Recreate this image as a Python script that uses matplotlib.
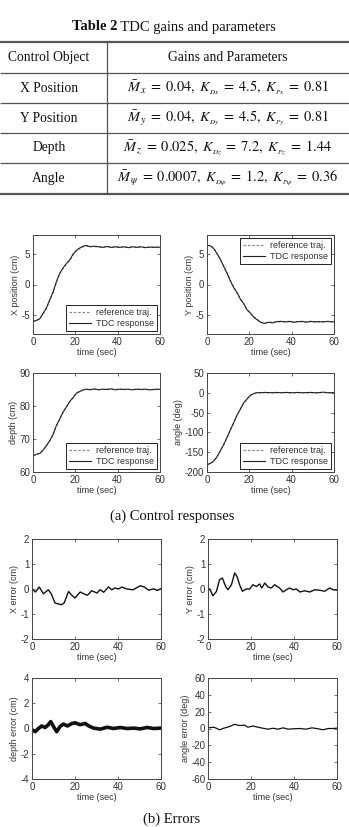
import matplotlib
matplotlib.use("Agg")
import matplotlib.pyplot as plt

plt.rcParams['mathtext.fontset'] = 'stix'
plt.rcParams['axes.unicode_minus'] = False

# ---------------- table data ----------------
table_title_bold = "Table 2"
table_title_rest = " TDC gains and parameters"
col_headers = ["Control Object", "Gains and Parameters"]
row_names = ["X Position", "Y Position", "Depth", "Angle"]
row_params = [
    r"$\bar{M}_{\,x}\;=\;0.04,\ K_{_{Dx}}\;=\;4.5,\ K_{_{Px}}\;=\;0.81$",
    r"$\bar{M}_{\,y}\;=\;0.04,\ K_{_{Dy}}\;=\;4.5,\ K_{_{Py}}\;=\;0.81$",
    r"$\bar{M}_{\,z}\;=\;0.025,\ K_{_{Dz}}\;=\;7.2,\ K_{_{Pz}}\;=\;1.44$",
    r"$\bar{M}_{\,\psi}\;=\;0.0007,\ K_{_{D\psi}}\;=\;1.2,\ K_{_{P\psi}}\;=\;0.36$",
]
caption_a = "(a) Control responses"
caption_b = "(b) Errors"

# ---------------- response data ----------------
t_resp = [0, 1.6, 3.2, 4.7, 6.3, 7.9, 9.5, 11, 12.6, 14.2, 15.8, 17.4, 18.9, 20.5, 22.1,
          23.7, 25.3, 27, 29, 31, 33, 35, 37, 39, 41, 43, 45, 47, 49, 51, 53, 55, 57, 59, 60]
x_ref = [-5.9, -5.85, -5.5, -4.8, -3.9, -2.6, -1.3, 0.3, 1.7, 2.6, 3.3, 3.9, 4.8, 5.6, 5.8,
         6.1, 6.2, 6.15, 6.1, 6.1, 6.05, 6.1, 6.05, 6.0, 6.05, 6.05, 6.0, 6.05, 6.05, 6.05,
         6.0, 6.0, 6.05, 6.0, 6.0]
x_tdc = [-6.0, -5.8, -5.55, -4.7, -3.8, -2.5, -1.2, 0.4, 1.8, 2.7, 3.4, 4.0, 4.9, 5.5, 5.9,
         6.2, 6.3, 6.1, 6.2, 6.1, 6.0, 6.15, 6.0, 6.1, 6.0, 6.1, 5.95, 6.1, 6.0, 6.1, 5.95,
         6.05, 6.0, 6.05, 6.0]
y_ref = [6.3, 6.3, 5.9, 5.1, 4.0, 3.0, 1.9, 0.7, -0.4, -1.4, -2.3, -3.2, -4.0, -4.7, -5.2,
         -5.6, -6.05, -6.2, -6.15, -6.1, -6.05, -6.05, -6.0, -6.05, -6.05, -6.0, -6.0, -6.05,
         -6.0, -6.0, -6.05, -6.0, -6.0, -6.0, -6.0]
y_tdc = [6.35, 6.25, 5.8, 5.0, 4.1, 2.9, 1.8, 0.6, -0.5, -1.3, -2.4, -3.1, -4.1, -4.6, -5.3,
         -5.7, -6.1, -6.3, -6.1, -6.2, -6.0, -5.95, -6.05, -5.95, -6.1, -6.0, -5.95, -6.1,
         -5.95, -6.05, -6.0, -6.05, -5.95, -6.05, -6.0]
z_ref = [65.0, 65.3, 65.7, 66.5, 68.0, 69.3, 71.5, 73.8, 76.1, 78.0, 79.8, 81.3, 82.6, 83.8,
         84.5, 84.8, 85.0, 85.0, 85.1, 85.0, 85.0, 85.1, 85.0, 85.0, 85.1, 85.0, 85.0, 85.0,
         85.1, 85.0, 85.0, 85.0, 85.0, 85.0, 85.0]
z_tdc = [64.8, 65.4, 65.6, 66.6, 67.9, 69.5, 71.4, 74.0, 76.0, 78.2, 79.7, 81.4, 82.5, 83.9,
         84.4, 84.9, 85.1, 84.9, 85.2, 84.9, 85.1, 85.0, 85.2, 84.9, 85.1, 85.0, 85.1, 84.9,
         85.1, 85.0, 85.1, 84.9, 85.0, 85.1, 85.0]
a_ref = [-181, -179, -173, -161, -147, -130, -113, -95, -75, -57, -40, -26, -15, -7, -2,
         0, 0.5, 0.5, 0, 0.5, 0, 0.5, 0.5, 0, 0.5, 0, 0.5, 0, 0.5, 0, 0.5, 1, 0.5, 0, 0]
a_tdc = [-182, -178, -172, -162, -146, -131, -112, -94, -76, -56, -41, -25, -16, -6, -2,
         0.5, 0, 1, 0.5, 0, 1, 0, 1, 0.5, 0, 1, 0, 0.5, 1, 0, 0.5, 1.5, 0, 0.5, 0]

# ---------------- error data ----------------
t_ex = [0, 1.6, 3.4, 5.3, 7.6, 9.0, 10.7, 12.3, 13.8, 15.0, 17.0, 18.5, 20.0, 22.4, 24.0,
        25.8, 27.8, 30.2, 31.7, 33.3, 35.6, 37.1, 38.6, 40.2, 41.8, 44.0, 47.0, 50.4, 52.2,
        54.3, 56.6, 58.2, 60]
e_x = [0.0, -0.12, 0.08, -0.19, -0.03, -0.2, -0.56, -0.6, -0.63, -0.55, -0.1, -0.25, -0.36,
       -0.12, -0.19, -0.25, -0.07, -0.16, -0.03, -0.13, 0.08, -0.03, 0.04, 0.0, 0.08, 0.0,
       -0.03, 0.13, 0.08, -0.05, 0.01, -0.06, 0.01]
t_ey = [0, 0.8, 2.3, 3.9, 5.4, 6.7, 8.2, 9.3, 10.9, 12.4, 13.5, 14.7, 16.0, 17.8, 19.4,
        20.9, 22.5, 24.0, 25.0, 26.4, 27.9, 29.5, 31.0, 33.3, 34.9, 36.5, 38.0, 39.6, 41.1,
        42.7, 45.0, 47.3, 49.6, 52.0, 54.3, 56.6, 58.1, 60]
e_y = [0.0, 0.0, -0.27, -0.1, 0.37, 0.44, 0.1, -0.03, 0.17, 0.64, 0.5, 0.17, -0.09, 0.0,
       0.0, 0.17, 0.1, 0.2, 0.04, 0.24, 0.08, 0.04, 0.17, 0.04, -0.12, -0.03, 0.04, -0.03,
       0.0, -0.12, -0.07, -0.12, -0.03, -0.05, -0.09, 0.04, -0.03, -0.04]
t_ez = [0, 1.5, 3.0, 4.5, 6.1, 7.6, 8.7, 10.0, 11.5, 13.0, 14.6, 16.5, 18.6, 20.1, 22.4,
        24.8, 26.4, 28.7, 31.8, 34.9, 38.0, 41.1, 44.2, 47.3, 50.4, 53.5, 56.6, 60]
e_z = [-0.1, -0.25, 0.0, 0.2, 0.08, 0.3, 0.55, 0.15, -0.25, 0.15, 0.35, 0.2, 0.4, 0.45,
       0.3, 0.4, 0.2, 0.03, -0.05, 0.1, 0.0, 0.08, 0.0, 0.03, -0.03, 0.08, 0.0, 0.03]
t_ea = [0, 0.8, 2.8, 5.4, 7.5, 10.0, 12.4, 14.7, 17.0, 18.6, 20.9, 23.3, 25.6, 28.0, 30.2,
        32.6, 35.0, 37.2, 40.0, 42.7, 45.5, 48.4, 51.0, 53.5, 56.0, 58.1, 60]
e_a = [1.0, 1.0, 1.5, -1.5, 0.5, 2.3, 5.0, 3.5, 4.0, 1.5, 3.0, 1.5, 0.3, -0.8, 0.3, -0.8,
       0.8, -0.8, -0.3, 0.0, -0.8, 0.8, -0.3, -1.5, 0.0, 0.0, 0.4]

# ---------------- figure ----------------
W, H = 349, 827
fig = plt.figure(figsize=(W / 100, H / 100), dpi=100)

bg = fig.add_axes([0, 0, 1, 1])
bg.set_xlim(0, W)
bg.set_ylim(H, 0)
bg.axis('off')

serif = 'Liberation Serif'
sans = 'Liberation Sans'
gridc = '#555555'
ink = '#111111'

# table title
bg.text(117, 27, table_title_bold, ha='right', va='center', fontsize=10.5,
        fontweight='bold', family=serif, color=ink)
bg.text(117, 27, table_title_rest, ha='left', va='center', fontsize=10.5,
        family=serif, color=ink)

rows_y = [42, 73, 103, 133, 163, 194]
for i, yy in enumerate(rows_y):
    lw = 1.6 if i in (0, len(rows_y) - 1) else 0.9
    bg.plot([0, W], [yy, yy], color=gridc, lw=lw, solid_capstyle='butt')
bg.plot([107, 107], [rows_y[0], rows_y[-1]], color=gridc, lw=0.9)

bg.text(49, (rows_y[0] + rows_y[1]) / 2, col_headers[0], ha='center', va='center',
        fontsize=9.8, family=serif, color=ink)
bg.text(228, (rows_y[0] + rows_y[1]) / 2, col_headers[1], ha='center', va='center',
        fontsize=9.8, family=serif, color=ink)
for i, (nm, pr) in enumerate(zip(row_names, row_params)):
    yc = (rows_y[i + 1] + rows_y[i + 2]) / 2
    bg.text(49, yc, nm, ha='center', va='center', fontsize=9.8, family=serif, color=ink)
    bg.text(228, yc, pr, ha='center', va='center', fontsize=10.4, color=ink)

bg.text(172, 516, caption_a, ha='center', va='center', fontsize=10.5, family=serif,
        color=ink)
bg.text(172, 819, caption_b, ha='center', va='center', fontsize=10.5, family=serif,
        color=ink)

txtc = '#333333'


def make_ax(l, t, r, b):
    ax = fig.add_axes([l / W, 1 - b / H, (r - l) / W, (b - t) / H])
    ax.tick_params(direction='in', top=True, right=True, length=2.5, width=0.5,
                   labelsize=7, colors=txtc, pad=2)
    for sp in ax.spines.values():
        sp.set_linewidth(0.7)
        sp.set_color('#444444')
    ax.set_xlim(0, 60)
    ax.set_xticks([0, 20, 40, 60])
    ax.set_xlabel('time (sec)', fontsize=6.5, family=sans, color=txtc, labelpad=1)
    return ax


def style_ticks(ax):
    for lab in ax.get_xticklabels() + ax.get_yticklabels():
        lab.set_family(sans)


resp_specs = [
    ((33, 235, 160, 334), t_resp, x_ref, x_tdc, (-8, 8), [-5, 0, 5], 'X position (cm)', 'lower right'),
    ((207, 235, 334, 334), t_resp, y_ref, y_tdc, (-8, 8), [-5, 0, 5], 'Y position (cm)', 'upper right'),
    ((33, 373, 160, 472), t_resp, z_ref, z_tdc, (60, 90), [60, 70, 80, 90], 'depth (cm)', 'lower right'),
    ((207, 373, 334, 472), t_resp, a_ref, a_tdc, (-200, 50), [-200, -150, -100, -50, 0, 50], 'angle (deg)', 'lower right'),
]
for rect, tt, ref, tdc, yl, yt, lab, loc in resp_specs:
    ax = make_ax(*rect)
    ax.plot(tt, ref, color='#888888', lw=0.9, ls=(0, (2, 1.5)), label='reference traj.')
    ax.plot(tt, tdc, color='#222222', lw=0.8, label='TDC response')
    ax.set_ylim(*yl)
    ax.set_yticks(yt)
    ax.set_ylabel(lab, fontsize=6.5, family=sans, color=txtc, labelpad=1)
    style_ticks(ax)
    leg = ax.legend(loc=loc, frameon=True, fancybox=False, framealpha=1,
                    edgecolor='#222222', handlelength=2.4, handletextpad=0.6,
                    borderpad=0.35, labelspacing=0.25, borderaxespad=0.3,
                    prop={'family': sans, 'size': 6.5})
    leg.get_frame().set_linewidth(0.7)
    for tx in leg.get_texts():
        tx.set_color(txtc)

err_specs = [
    ((32, 539, 161, 639), t_ex, e_x, (-2, 2), [-2, -1, 0, 1, 2], 'X error (cm)', 1.0),
    ((208, 539, 337, 639), t_ey, e_y, (-2, 2), [-2, -1, 0, 1, 2], 'Y error (cm)', 1.0),
    ((32, 678, 161, 779), t_ez, e_z, (-4, 4), [-4, -2, 0, 2, 4], 'depth error (cm)', 2.6),
    ((208, 678, 337, 779), t_ea, e_a, (-60, 60), [-60, -40, -20, 0, 20, 40, 60], 'angle error (deg)', 0.9),
]
for rect, tt, ee, yl, yt, lab, lw in err_specs:
    ax = make_ax(*rect)
    ax.plot(tt, ee, color='#111111', lw=lw)
    ax.set_ylim(*yl)
    ax.set_yticks(yt)
    ax.set_ylabel(lab, fontsize=6.5, family=sans, color=txtc, labelpad=1)
    style_ticks(ax)

fig.savefig('out.png', dpi=100)
